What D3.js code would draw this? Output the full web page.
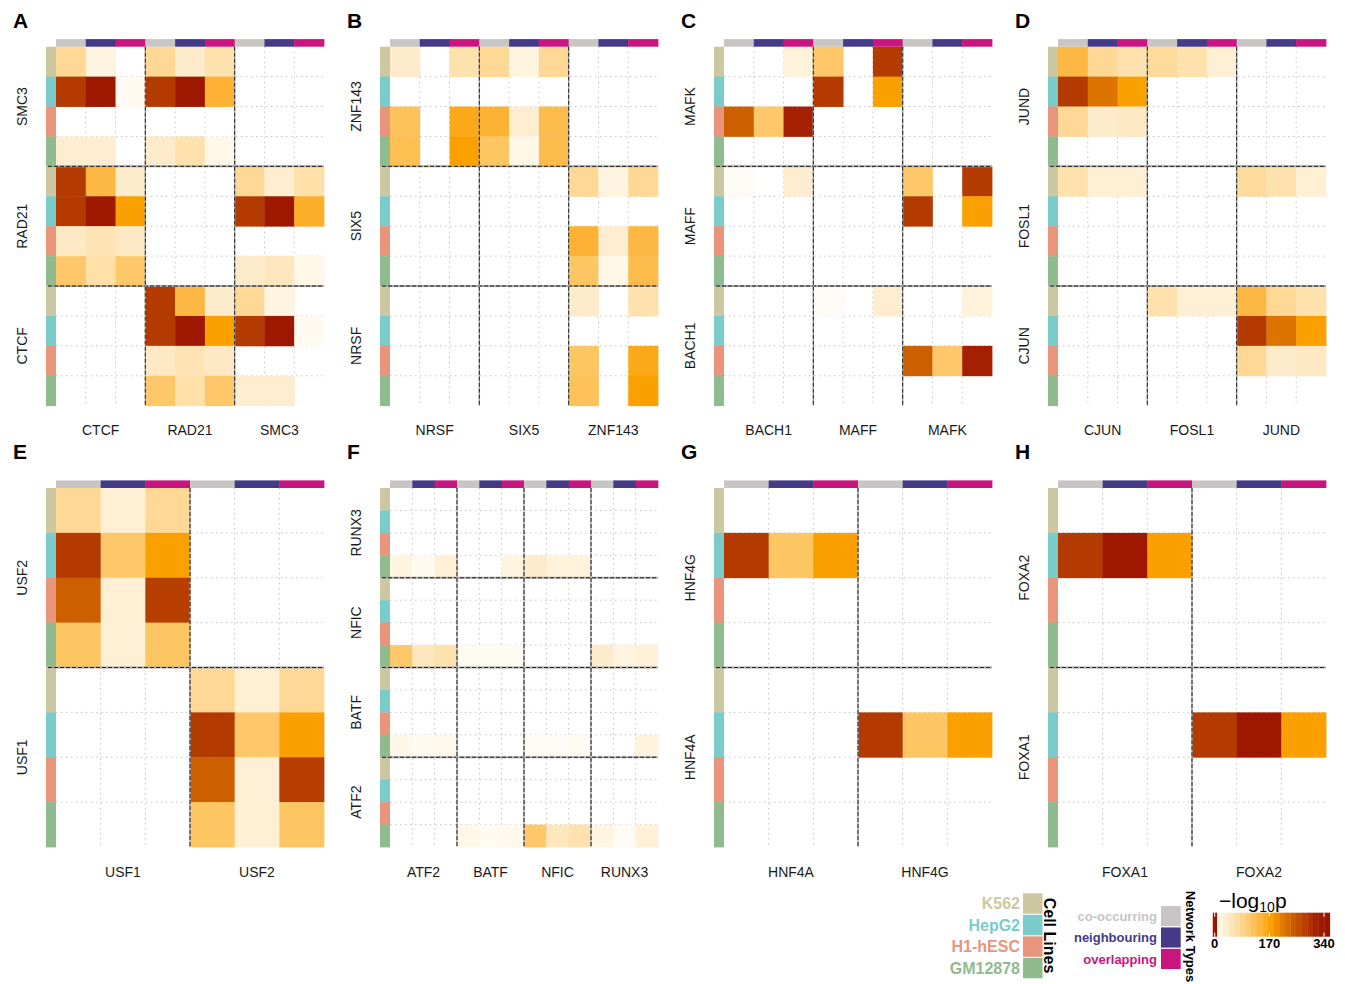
<!DOCTYPE html>
<html>
<head>
<meta charset="UTF-8">
<title>TF co-binding enrichment heatmaps</title>
<script src="https://d3js.org/d3.v7.min.js"></script>
<style>
  body { margin: 0; padding: 0; background: #fff; }
  svg { display: block; font-family: "Liberation Sans", Arial, sans-serif; }
  .axis-label { font-size: 14px; fill: #1a1a1a; }
  .panel-letter { font-size: 21px; font-weight: bold; fill: #000; }
  .grid { stroke: #c4c4c4; stroke-width: 1; stroke-dasharray: 1.5,3.5; }
</style>
</head>
<body>
<svg id="chart" width="1345" height="984"></svg>
<script>
// categories
const cellLines = ["K562", "HepG2", "H1-hESC", "GM12878"];
const networkTypes = ["co-occurring", "neighbouring", "overlapping"];
const cellColors = ["#ccc8a2", "#7accca", "#e8957b", "#8fbb8e"];
const netColors = ["#c9c5c5", "#443a87", "#c8157f"];

// -log10 p values, one row per (row TF, cell line), one column per (column TF, network type)
const colsA = ["CTCF", "RAD21", "SMC3"];
const rowsA = ["SMC3", "RAD21", "CTCF"];
const valsA = [
  [80, 20, 0, 80, 40, 60, 0, 0, 0],
  [285, 330, 8, 285, 330, 145, 0, 0, 0],
  [0, 0, 0, 0, 0, 0, 0, 0, 0],
  [35, 35, 0, 40, 60, 15, 0, 0, 0],
  [285, 135, 40, 0, 0, 0, 80, 35, 65],
  [285, 330, 175, 0, 0, 0, 285, 330, 150],
  [45, 55, 45, 0, 0, 0, 0, 0, 0],
  [110, 65, 110, 0, 0, 0, 40, 50, 15],
  [0, 0, 0, 285, 135, 40, 80, 20, 0],
  [0, 0, 0, 285, 330, 175, 285, 330, 8],
  [0, 0, 0, 45, 55, 45, 0, 0, 0],
  [0, 0, 0, 110, 65, 110, 35, 35, 0]
];

const colsB = ["NRSF", "SIX5", "ZNF143"];
const rowsB = ["ZNF143", "SIX5", "NRSF"];
const valsB = [
  [40, 0, 60, 80, 20, 80, 0, 0, 0],
  [0, 0, 0, 0, 0, 0, 0, 0, 0],
  [120, 0, 160, 145, 35, 130, 0, 0, 0],
  [125, 0, 175, 115, 15, 130, 0, 0, 0],
  [0, 0, 0, 0, 0, 0, 80, 20, 80],
  [0, 0, 0, 0, 0, 0, 0, 0, 0],
  [0, 0, 0, 0, 0, 0, 145, 35, 135],
  [0, 0, 0, 0, 0, 0, 115, 15, 130],
  [0, 0, 0, 0, 0, 0, 40, 0, 60],
  [0, 0, 0, 0, 0, 0, 0, 0, 0],
  [0, 0, 0, 0, 0, 0, 115, 0, 160],
  [0, 0, 0, 0, 0, 0, 120, 0, 175]
];

const colsC = ["BACH1", "MAFF", "MAFK"];
const rowsC = ["MAFK", "MAFF", "BACH1"];
const valsC = [
  [0, 0, 25, 110, 0, 285, 0, 0, 0],
  [0, 0, 0, 285, 0, 175, 0, 0, 0],
  [240, 110, 315, 0, 0, 0, 0, 0, 0],
  [0, 0, 0, 0, 0, 0, 0, 0, 0],
  [5, 0, 35, 0, 0, 0, 110, 0, 285],
  [0, 0, 0, 0, 0, 0, 285, 0, 175],
  [0, 0, 0, 0, 0, 0, 0, 0, 0],
  [0, 0, 0, 0, 0, 0, 0, 0, 0],
  [0, 0, 0, 5, 0, 35, 0, 0, 25],
  [0, 0, 0, 0, 0, 0, 0, 0, 0],
  [0, 0, 0, 0, 0, 0, 240, 110, 315],
  [0, 0, 0, 0, 0, 0, 0, 0, 0]
];

const colsD = ["CJUN", "FOSL1", "JUND"];
const rowsD = ["JUND", "FOSL1", "CJUN"];
const valsD = [
  [135, 80, 60, 75, 60, 30, 0, 0, 0],
  [285, 215, 175, 0, 0, 0, 0, 0, 0],
  [80, 40, 45, 0, 0, 0, 0, 0, 0],
  [0, 0, 0, 0, 0, 0, 0, 0, 0],
  [60, 30, 30, 0, 0, 0, 75, 60, 30],
  [0, 0, 0, 0, 0, 0, 0, 0, 0],
  [0, 0, 0, 0, 0, 0, 0, 0, 0],
  [0, 0, 0, 0, 0, 0, 0, 0, 0],
  [0, 0, 0, 60, 30, 30, 135, 80, 60],
  [0, 0, 0, 0, 0, 0, 285, 215, 175],
  [0, 0, 0, 0, 0, 0, 80, 40, 45],
  [0, 0, 0, 0, 0, 0, 0, 0, 0]
];

const colsE = ["USF1", "USF2"];
const rowsE = ["USF2", "USF1"];
const valsE = [
  [80, 30, 80, 0, 0, 0],
  [285, 110, 175, 0, 0, 0],
  [240, 30, 280, 0, 0, 0],
  [115, 30, 115, 0, 0, 0],
  [0, 0, 0, 80, 30, 80],
  [0, 0, 0, 285, 110, 175],
  [0, 0, 0, 240, 30, 280],
  [0, 0, 0, 115, 30, 115]
];

const colsF = ["ATF2", "BATF", "NFIC", "RUNX3"];
const rowsF = ["RUNX3", "NFIC", "BATF", "ATF2"];
const valsF = [
  [0, 0, 0, 0, 0, 0, 0, 0, 0, 0, 0, 0],
  [0, 0, 0, 0, 0, 0, 0, 0, 0, 0, 0, 0],
  [0, 0, 0, 0, 0, 0, 0, 0, 0, 0, 0, 0],
  [20, 8, 30, 0, 0, 20, 40, 25, 25, 0, 0, 0],
  [0, 0, 0, 0, 0, 0, 0, 0, 0, 0, 0, 0],
  [0, 0, 0, 0, 0, 0, 0, 0, 0, 0, 0, 0],
  [0, 0, 0, 0, 0, 0, 0, 0, 0, 0, 0, 0],
  [110, 50, 60, 8, 8, 8, 0, 0, 0, 40, 20, 28],
  [0, 0, 0, 0, 0, 0, 0, 0, 0, 0, 0, 0],
  [0, 0, 0, 0, 0, 0, 0, 0, 0, 0, 0, 0],
  [0, 0, 0, 0, 0, 0, 0, 0, 0, 0, 0, 0],
  [15, 8, 12, 0, 0, 0, 6, 5, 8, 0, 0, 22],
  [0, 0, 0, 0, 0, 0, 0, 0, 0, 0, 0, 0],
  [0, 0, 0, 0, 0, 0, 0, 0, 0, 0, 0, 0],
  [0, 0, 0, 0, 0, 0, 0, 0, 0, 0, 0, 0],
  [0, 0, 0, 15, 8, 12, 110, 50, 60, 20, 6, 28]
];

const colsG = ["HNF4A", "HNF4G"];
const rowsG = ["HNF4G", "HNF4A"];
const valsG = [
  [0, 0, 0, 0, 0, 0],
  [285, 115, 175, 0, 0, 0],
  [0, 0, 0, 0, 0, 0],
  [0, 0, 0, 0, 0, 0],
  [0, 0, 0, 0, 0, 0],
  [0, 0, 0, 285, 115, 175],
  [0, 0, 0, 0, 0, 0],
  [0, 0, 0, 0, 0, 0]
];

const colsH = ["FOXA1", "FOXA2"];
const rowsH = ["FOXA2", "FOXA1"];
const valsH = [
  [0, 0, 0, 0, 0, 0],
  [285, 330, 175, 0, 0, 0],
  [0, 0, 0, 0, 0, 0],
  [0, 0, 0, 0, 0, 0],
  [0, 0, 0, 0, 0, 0],
  [0, 0, 0, 285, 330, 175],
  [0, 0, 0, 0, 0, 0],
  [0, 0, 0, 0, 0, 0]
];

const colorTicks = [0, 170, 340];

const panels = [
  { letter: "A", cols: colsA, rows: rowsA, vals: valsA },
  { letter: "B", cols: colsB, rows: rowsB, vals: valsB },
  { letter: "C", cols: colsC, rows: rowsC, vals: valsC },
  { letter: "D", cols: colsD, rows: rowsD, vals: valsD },
  { letter: "E", cols: colsE, rows: rowsE, vals: valsE },
  { letter: "F", cols: colsF, rows: rowsF, vals: valsF },
  { letter: "G", cols: colsG, rows: rowsG, vals: valsG },
  { letter: "H", cols: colsH, rows: rowsH, vals: valsH }
];

const svg = d3.select("#chart");

const color = d3.scaleLinear()
  .domain([0, 8, 20, 40, 60, 80, 115, 140, 175, 215, 240, 285, 315, 340])
  .range(["#ffffff", "#fffaf2", "#fff4df", "#feebcb", "#fee2ae", "#fed894", "#fec563",
          "#fdb53b", "#faa000", "#dd7400", "#cc5f00", "#b33a00", "#a52000", "#991300"])
  .clamp(true);

const W = 268, H = 359;
const colX = [56, 390, 724, 1058];
const rowY = [46.7, 488];
const letterY = [28.3, 459];

function drawPanel(p, idx) {
  const x0 = colX[idx % 4], y0 = rowY[Math.floor(idx / 4)];
  const g = svg.append("g").attr("transform", `translate(${x0},${y0})`);

  const colKeys = p.cols.flatMap(tf => networkTypes.map(n => tf + "|" + n));
  const rowKeys = p.rows.flatMap(tf => cellLines.map(c => tf + "|" + c));
  const x = d3.scaleBand().domain(colKeys).range([0, W]);
  const y = d3.scaleBand().domain(rowKeys).range([0, H]);
  const xb = d3.scaleBand().domain(p.cols).range([0, W]);
  const yb = d3.scaleBand().domain(p.rows).range([0, H]);

  // dotted grid at cell borders
  g.selectAll("line.gv").data(colKeys.slice(1)).join("line")
    .attr("class", "grid")
    .attr("x1", d => x(d)).attr("x2", d => x(d))
    .attr("y1", 0).attr("y2", H);
  g.selectAll("line.gh").data(rowKeys.slice(1)).join("line")
    .attr("class", "grid")
    .attr("x1", 0).attr("x2", W)
    .attr("y1", d => y(d)).attr("y2", d => y(d));

  // tiles
  const cells = [];
  p.vals.forEach((row, i) => row.forEach((v, j) => {
    if (v > 0) cells.push({ r: rowKeys[i], c: colKeys[j], v: v });
  }));
  g.selectAll("rect.tile").data(cells).join("rect")
    .attr("class", "tile")
    .attr("x", d => x(d.c))
    .attr("y", d => y(d.r))
    .attr("width", x.bandwidth() + 0.4)
    .attr("height", y.bandwidth() + 0.4)
    .attr("fill", d => color(d.v));

  // network type strip on top
  g.selectAll("rect.net").data(colKeys).join("rect")
    .attr("x", d => x(d))
    .attr("y", -7.6)
    .attr("width", x.bandwidth() + 0.4)
    .attr("height", 7.6)
    .attr("fill", d => netColors[networkTypes.indexOf(d.split("|")[1])]);

  // cell line strip on left
  g.selectAll("rect.cell").data(rowKeys).join("rect")
    .attr("x", -10)
    .attr("y", d => y(d))
    .attr("width", 10)
    .attr("height", y.bandwidth() + 0.4)
    .attr("fill", d => cellColors[cellLines.indexOf(d.split("|")[1])]);

  // block separators
  const hSep = p.rows.slice(1).map(d => yb(d));
  const vSep = p.cols.slice(1).map(d => xb(d));
  hSep.forEach(yy => {
    g.append("line").attr("x1", -8).attr("x2", W).attr("y1", yy).attr("y2", yy)
      .attr("stroke", "#a8a8a8").attr("stroke-width", 2);
    g.append("line").attr("x1", -8).attr("x2", W).attr("y1", yy).attr("y2", yy)
      .attr("stroke", "#222").attr("stroke-width", 1).attr("stroke-dasharray", "4,2");
  });
  vSep.forEach(xx => {
    g.append("line").attr("x1", xx).attr("x2", xx).attr("y1", 0).attr("y2", H)
      .attr("stroke", "#b0b0b0").attr("stroke-width", 1.4);
    g.append("line").attr("x1", xx).attr("x2", xx).attr("y1", 0).attr("y2", H)
      .attr("stroke", "#222").attr("stroke-width", 1).attr("stroke-dasharray", "4,2");
  });

  // column labels
  g.selectAll("text.xl").data(p.cols).join("text")
    .attr("class", "axis-label")
    .attr("x", d => xb(d) + xb.bandwidth() / 2)
    .attr("y", H + 29.5)
    .attr("text-anchor", "middle")
    .text(d => d);

  // row labels
  g.selectAll("text.yl").data(p.rows).join("text")
    .attr("class", "axis-label")
    .attr("transform", d => `translate(-34,${yb(d) + yb.bandwidth() / 2}) rotate(-90)`)
    .attr("text-anchor", "middle")
    .attr("dy", "0.35em")
    .text(d => d);

  svg.append("text")
    .attr("class", "panel-letter")
    .attr("x", x0 - 43)
    .attr("y", letterY[Math.floor(idx / 4)])
    .text(p.letter);
}

panels.forEach(drawPanel);

// ---- legends ----
const leg = svg.append("g").style("font-weight", "bold");

// cell lines
const cellY = d3.scaleBand().domain(cellLines).range([893.3, 978.3]).paddingInner(0.05);
leg.selectAll("rect.lc").data(cellLines).join("rect")
  .attr("x", 1023).attr("y", d => cellY(d))
  .attr("width", 19.5).attr("height", cellY.bandwidth())
  .attr("fill", (d, i) => cellColors[i]);
leg.selectAll("text.lc").data(cellLines).join("text")
  .attr("x", 1020).attr("y", d => cellY(d) + cellY.bandwidth() / 2)
  .attr("dy", "0.36em")
  .attr("text-anchor", "end")
  .style("font-size", "16px")
  .attr("fill", (d, i) => cellColors[i])
  .text(d => d);
leg.append("text")
  .attr("transform", "translate(1044,935.5) rotate(90)")
  .attr("text-anchor", "middle")
  .style("font-size", "16px")
  .attr("fill", "#000")
  .text("Cell Lines");

// network types
const netY = d3.scaleBand().domain(networkTypes).range([906, 969]).paddingInner(0.06);
leg.selectAll("rect.ln").data(networkTypes).join("rect")
  .attr("x", 1161).attr("y", d => netY(d))
  .attr("width", 19.7).attr("height", netY.bandwidth())
  .attr("fill", (d, i) => netColors[i]);
leg.selectAll("text.ln").data(networkTypes).join("text")
  .attr("x", 1157).attr("y", d => netY(d) + netY.bandwidth() / 2)
  .attr("dy", "0.36em")
  .attr("text-anchor", "end")
  .style("font-size", "13px")
  .attr("fill", (d, i) => netColors[i])
  .text(d => d);
leg.append("text")
  .attr("transform", "translate(1185.5,936.5) rotate(90)")
  .attr("text-anchor", "middle")
  .style("font-size", "13px")
  .attr("fill", "#000")
  .text("Network Types");

// colour bar
const cbX = d3.scaleLinear().domain([0, 340]).range([1214.7, 1324]);
const cbTop = 912.7, cbH = 24;
const steps = d3.range(20).map(i => 8 + i * 17.5);
svg.append("rect")
  .attr("x", cbX(-6)).attr("y", cbTop)
  .attr("width", cbX(8) - cbX(-6)).attr("height", cbH)
  .attr("fill", color(340));
svg.selectAll("rect.cb").data(steps).join("rect")
  .attr("x", d => cbX(d)).attr("y", cbTop)
  .attr("width", cbX(17.5) - cbX(0) + 0.3).attr("height", cbH)
  .attr("fill", d => color(d + 8));
colorTicks.forEach(t => {
  svg.append("line").attr("x1", cbX(t)).attr("x2", cbX(t))
    .attr("y1", cbTop).attr("y2", cbTop + 4).attr("stroke", "#fff").attr("stroke-width", 1);
  svg.append("line").attr("x1", cbX(t)).attr("x2", cbX(t))
    .attr("y1", cbTop + cbH - 4).attr("y2", cbTop + cbH).attr("stroke", "#fff").attr("stroke-width", 1);
});
svg.selectAll("text.cbt").data(colorTicks).join("text")
  .attr("x", d => cbX(d)).attr("y", 948)
  .attr("text-anchor", "middle")
  .style("font-size", "13px").style("font-weight", "bold")
  .text(d => d);
const ttl = svg.append("text").attr("x", 1219).attr("y", 908).style("font-size", "21px");
ttl.append("tspan").text("\u2212log");
ttl.append("tspan").attr("dy", 4).style("font-size", "14px").text("10");
ttl.append("tspan").attr("dy", -4).text("p");
</script>
</body>
</html>
